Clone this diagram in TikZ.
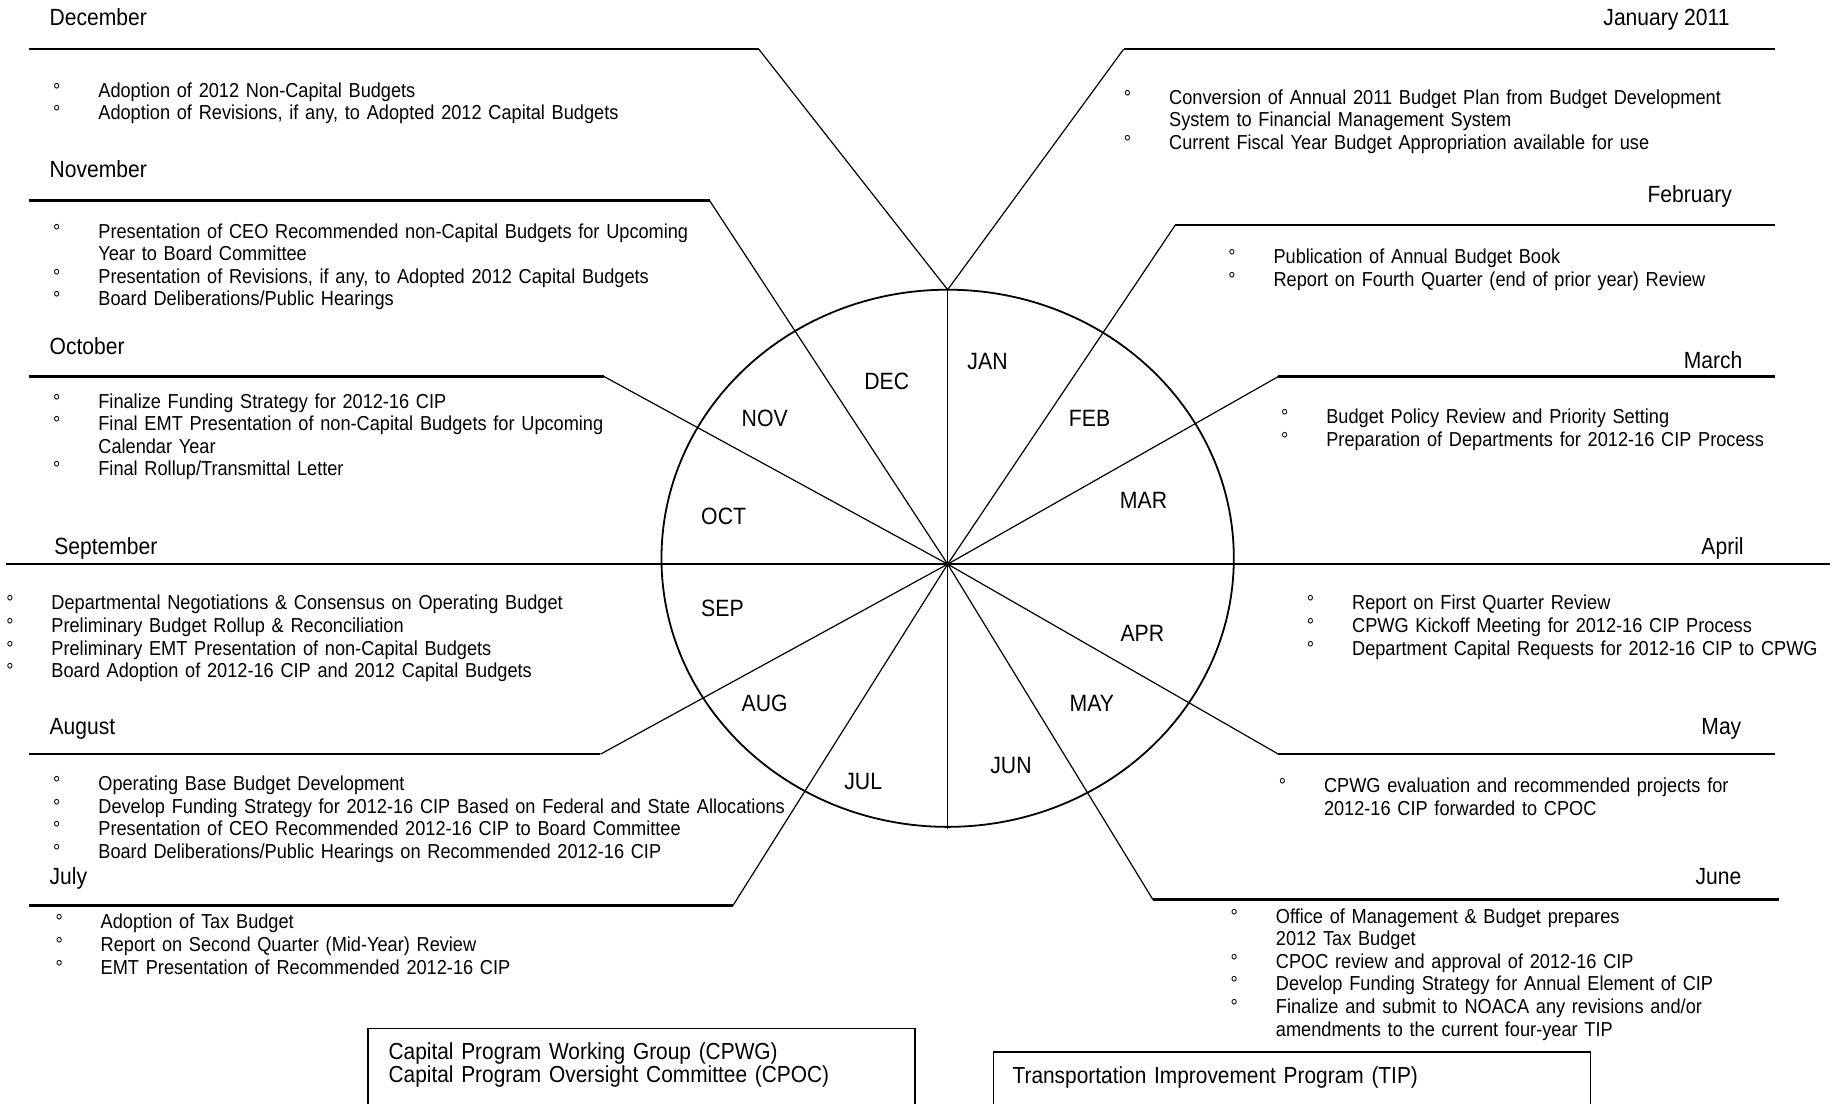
\documentclass[tikz,border=0pt]{standalone}
\usepackage{fontspec}
\setmainfont{Liberation Sans}[FakeStretch=0.9]

\newcommand{\itm}{\makebox[22.6pt][l]{°}}
\newcommand{\cont}{\hspace*{22.6pt}}

\tikzset{
  monthline/.style={line width=1.2pt},
  spoke/.style={line width=0.6pt},
  rim/.style={line width=0.9pt},
  boxline/.style={line width=0.8pt},
  title/.style={inner sep=0pt, font=\fontsize{11.7}{13}\selectfont},
  items/.style={inner sep=0pt, align=left, text width=420pt, font=\fontsize{10.1}{11.3}\selectfont},
  abbr/.style={inner sep=0pt, font=\fontsize{11.8}{13}\selectfont},
  boxtext/.style={inner sep=0pt, align=left, text width=300pt, font=\fontsize{11.6}{11.7}\selectfont}
}

\begin{document}
\begin{tikzpicture}[x=0.5864pt, y=-0.5864pt]
    \useasboundingbox (0,0) rectangle (1568,941);

    % Define coordinates
    \coordinate (C) at (808,481);
    \coordinate (top) at (808,247);
    \coordinate (bot) at (808,707);
    \coordinate (dec1) at (25,42);   \coordinate (dec2) at (647,42);
    \coordinate (nov1) at (25,171);  \coordinate (nov2) at (605,171);
    \coordinate (oct1) at (25,321);  \coordinate (oct2) at (515,321);
    \coordinate (sep1) at (5,481);
    \coordinate (aug1) at (25,643);  \coordinate (aug2) at (512,643);
    \coordinate (jul1) at (25,772);  \coordinate (jul2) at (625,772);
    \coordinate (jan1) at (958,42);  \coordinate (jan2) at (1513,42);
    \coordinate (feb1) at (1002,192); \coordinate (feb2) at (1513,192);
    \coordinate (mar1) at (1090,321); \coordinate (mar2) at (1513,321);
    \coordinate (apr2) at (1560,481);
    \coordinate (may1) at (1090,643); \coordinate (may2) at (1513,643);
    \coordinate (jun1) at (983,767);  \coordinate (jun2) at (1517,767);

    % Draw the wheel
    \draw[rim] (808,476) ellipse (244 and 229);
    \draw[spoke] (top) -- (bot);
    \draw[spoke] (dec2) -- (top) -- (jan1);
    \draw[spoke] (nov2) -- (C);
    \draw[spoke] (oct2) -- (C);
    \draw[spoke] (aug2) -- (C);
    \draw[spoke] (jul2) -- (C);
    \draw[spoke] (feb1) -- (C);
    \draw[spoke] (mar1) -- (C);
    \draw[spoke] (may1) -- (C);
    \draw[spoke] (jun1) -- (C);

    % Draw month lines
    \draw[monthline] (dec1) -- (dec2);
    \draw[monthline] (nov1) -- (nov2);
    \draw[monthline] (oct1) -- (oct2);
    \draw[monthline] (sep1) -- (C);
    \draw[monthline] (aug1) -- (aug2);
    \draw[monthline] (jul1) -- (jul2);
    \draw[monthline] (jan1) -- (jan2);
    \draw[monthline] (feb1) -- (feb2);
    \draw[monthline] (mar1) -- (mar2);
    \draw[monthline] (C) -- (apr2);
    \draw[monthline] (may1) -- (may2);
    \draw[monthline] (jun1) -- (jun2);

    % Labels inside the wheel
    \node[abbr] (jan) at (842,308) {JAN};
    \node[abbr] (feb) at (929,357) {FEB};
    \node[abbr] (mar) at (975,427) {MAR};
    \node[abbr] (apr) at (974,540) {APR};
    \node[abbr] (may) at (931,600) {MAY};
    \node[abbr] (jun) at (862,653) {JUN};
    \node[abbr] (jul) at (736,666) {JUL};
    \node[abbr] (aug) at (652,600) {AUG};
    \node[abbr] (sep) at (616,519) {SEP};
    \node[abbr] (oct) at (617,440) {OCT};
    \node[abbr] (nov) at (652,357) {NOV};
    \node[abbr] (dec) at (756,325) {DEC};

    % Month titles
    \node[title, anchor=base west] (decT) at (42,22) {December};
    \node[title, anchor=base west] (novT) at (42,151) {November};
    \node[title, anchor=base west] (octT) at (42,302) {October};
    \node[title, anchor=base west] (sepT) at (46,473) {September};
    \node[title, anchor=base west] (augT) at (42,626) {August};
    \node[title, anchor=base west] (julT) at (42,754) {July};
    \node[title, anchor=base east] (janT) at (1475,22) {January 2011};
    \node[title, anchor=base east] (febT) at (1477,173) {February};
    \node[title, anchor=base east] (marT) at (1486,314) {March};
    \node[title, anchor=base east] (aprT) at (1487,473) {April};
    \node[title, anchor=base east] (mayT) at (1485,626) {May};
    \node[title, anchor=base east] (junT) at (1485,754) {June};

    % Month tasks
    \node[items, anchor=base west] (decL) at (45,83) {\itm Adoption of 2012 Non-Capital Budgets\\
      \itm Adoption of Revisions, if any, to Adopted 2012 Capital Budgets};
    \node[items, anchor=base west] (novL) at (45,203) {\itm Presentation of CEO Recommended non-Capital Budgets for Upcoming\\
      \cont Year to Board Committee\\
      \itm Presentation of Revisions, if any, to Adopted 2012 Capital Budgets\\
      \itm Board Deliberations/Public Hearings};
    \node[items, anchor=base west] (octL) at (45,348) {\itm Finalize Funding Strategy for 2012-16 CIP\\
      \itm Final EMT Presentation of non-Capital Budgets for Upcoming\\
      \cont Calendar Year\\
      \itm Final Rollup/Transmittal Letter};
    \node[items, anchor=base west] (sepL) at (5,520) {\itm Departmental Negotiations \& Consensus on Operating Budget\\
      \itm Preliminary Budget Rollup \& Reconciliation\\
      \itm Preliminary EMT Presentation of non-Capital Budgets\\
      \itm Board Adoption of 2012-16 CIP and 2012 Capital Budgets};
    \node[items, anchor=base west] (augL) at (45,674) {\itm Operating Base Budget Development\\
      \itm Develop Funding Strategy for 2012-16 CIP Based on Federal and State Allocations\\
      \itm Presentation of CEO Recommended 2012-16 CIP to Board Committee\\
      \itm Board Deliberations/Public Hearings on Recommended 2012-16 CIP};
    \node[items, anchor=base west] (julL) at (47,792) {\itm Adoption of Tax Budget\\
      \itm Report on Second Quarter (Mid-Year) Review\\
      \itm EMT Presentation of Recommended 2012-16 CIP};
    \node[items, anchor=base west] (janL) at (958,89) {\itm Conversion of Annual 2011 Budget Plan from Budget Development\\
      \cont System to Financial Management System\\
      \itm Current Fiscal Year Budget Appropriation available for use};
    \node[items, anchor=base west] (febL) at (1047,225) {\itm Publication of Annual Budget Book\\
      \itm Report on Fourth Quarter (end of prior year) Review};
    \node[items, anchor=base west] (marL) at (1092,361) {\itm Budget Policy Review and Priority Setting\\
      \itm Preparation of Departments for 2012-16 CIP Process};
    \node[items, anchor=base west] (aprL) at (1114,520) {\itm Report on First Quarter Review\\
      \itm CPWG Kickoff Meeting for 2012-16 CIP Process\\
      \itm Department Capital Requests for 2012-16 CIP to CPWG};
    \node[items, anchor=base west] (mayL) at (1090,676) {\itm CPWG evaluation and recommended projects for\\
      \cont 2012-16 CIP forwarded to CPOC};
    \node[items, anchor=base west] (junL) at (1049,787) {\itm Office of Management \& Budget prepares\\
      \cont 2012 Tax Budget\\
      \itm CPOC review and approval of 2012-16 CIP\\
      \itm Develop Funding Strategy for Annual Element of CIP\\
      \itm Finalize and submit to NOACA any revisions and/or\\
      \cont amendments to the current four-year TIP};

    % Legend boxes
    \draw[boxline] (314,941) |- (780,877) -- (780,941);
    \node[boxtext, anchor=base west] (cpwg) at (331,903) {Capital Program Working Group (CPWG)\\
      Capital Program Oversight Committee (CPOC)};
    \draw[boxline] (847,941) |- (1356,897) -- (1356,941);
    \node[boxtext, anchor=base west] (tip) at (863,924) {Transportation Improvement Program (TIP)};
\end{tikzpicture}
\end{document}
